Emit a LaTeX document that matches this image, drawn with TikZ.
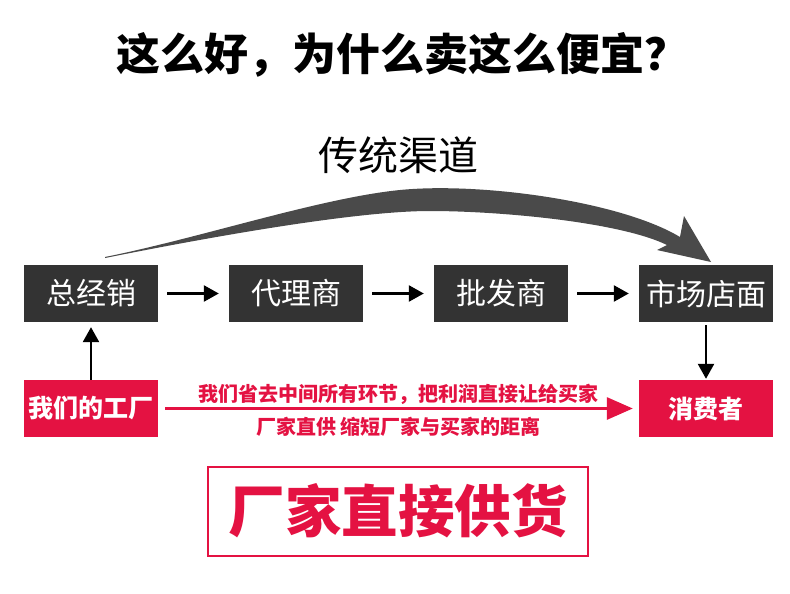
\documentclass[tikz,border=0pt]{standalone}
\usepackage{fontspec}
\setmainfont{Noto Sans CJK SC}
\usetikzlibrary{arrows.meta,positioning}
\definecolor{boxgray}{RGB}{51,51,51}
\definecolor{curvegray}{RGB}{74,74,74}
\definecolor{factoryred}{RGB}{228,18,66}

\tikzset{
  grbox/.style={fill=boxgray,text=white,minimum width=134pt,minimum height=57pt,inner sep=0pt,font=\fontsize{30}{32}\selectfont},
  rdbox/.style={fill=factoryred,text=white,minimum width=134pt,minimum height=57pt,inner sep=0pt,font=\bfseries\fontsize{25}{27}\selectfont},
  blkarrow/.style={line width=2.5pt,-{Triangle[length=15pt,width=16pt]}},
  redarrow/.style={factoryred,line width=3pt,-{Triangle[length=26pt,width=22pt]}},
  redtext/.style={text=factoryred,inner sep=0pt,font=\bfseries\fontsize{20}{22}\selectfont},
}

\begin{document}
\begin{tikzpicture}[x=1pt,y=-1pt]
\path[use as bounding box,fill=white] (0,0) rectangle (790,594);
% headings
\node[inner sep=0pt,font=\bfseries\fontsize{44}{46}\selectfont] (title) at (402,55) {这么好，为什么卖这么便宜？};
\node[inner sep=0pt,font=\fontsize{40}{42}\selectfont] (channel) at (398,155) {传统渠道};
% curved arrow over the row
\fill[curvegray] (105,257) .. controls (200,238) and (320,198) .. (400,190)
  .. controls (480,182) and (620,201) .. (680,237) -- (684,216) -- (711,262) -- (657,250) -- (667,245)
  .. controls (620,222) and (500,211) .. (430,211)
  .. controls (350,211) and (190,241) .. (105,258) -- cycle;
% traditional chain
\node[grbox] (zjx) at (91,293.5) {总经销};
\node[grbox] (dls) at (296,293.5) {代理商};
\node[grbox] (pfs) at (501,293.5) {批发商};
\node[grbox] (scdm) at (706,293.5) {市场店面};
\node[rdbox] (gc) at (91,408.5) {我们的工厂};
\node[rdbox] (xfz) at (706,408.5) {消费者};
\draw[blkarrow,shorten <=9pt,shorten >=10pt] (zjx) -- (dls);
\draw[blkarrow,shorten <=9pt,shorten >=10pt] (dls) -- (pfs);
\draw[blkarrow,shorten <=9pt,shorten >=10pt] (pfs) -- (scdm);
\draw[blkarrow,shorten >=5pt] (gc) -- (zjx);
\draw[blkarrow,shorten <=3pt,shorten >=1pt] (scdm) -- (xfz);
% direct route
\draw[redarrow,shorten <=7pt,shorten >=6pt] (gc) -- (xfz)
  node[redtext,midway,yshift=14pt] (skip) {我们省去中间所有环节，把利润直接让给买家}
  node[redtext,midway,yshift=-18pt] (short) {厂家直供 缩短厂家与买家的距离};
\node[draw=factoryred,line width=2pt,text=factoryred,minimum width=380pt,minimum height=89pt,inner sep=0pt,font=\bfseries\fontsize{56.5}{58}\selectfont] (direct) at (398,511) {厂家直接供货};
\end{tikzpicture}
\end{document}
